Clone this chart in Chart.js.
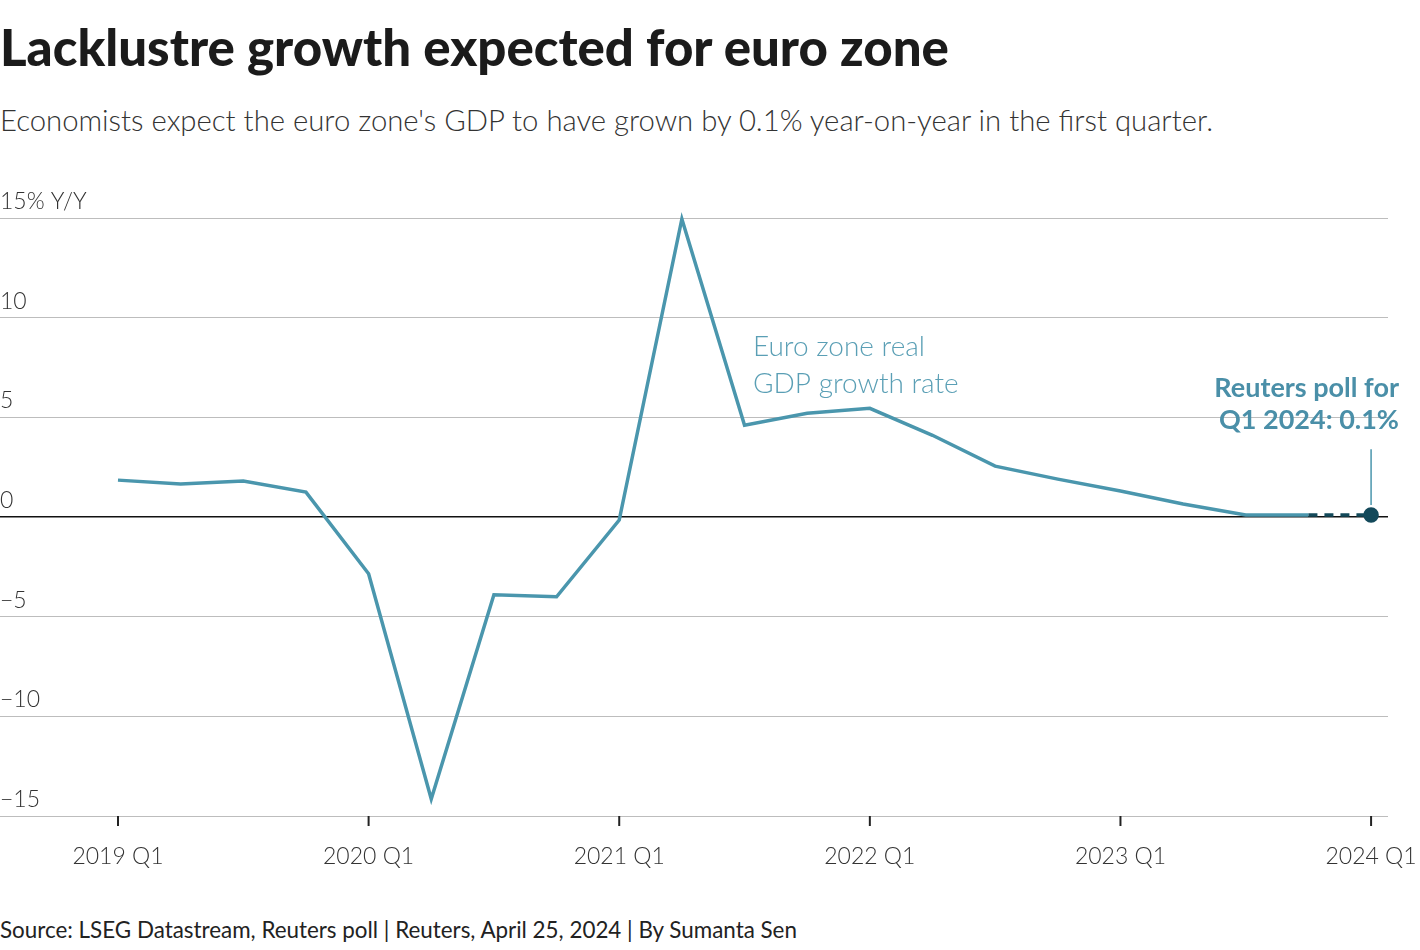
<!DOCTYPE html>
<html>
<head>
<meta charset="utf-8">
<script src="https://cdn.jsdelivr.net/npm/chart.js@4.4.1/dist/chart.umd.min.js"></script>
<style>
  body { margin: 0; background: #fff; font-family: Lato, "Noto Sans", sans-serif; }
  #wrap { position: relative; width: 1420px; height: 950px; overflow: hidden; }
  h1 { position: absolute; left: 0; top: 16px; margin: 0; font-size: 51px; font-weight: 900; color: #1b1b1b; line-height: 1.2; }
  .sub { position: absolute; left: 0; top: 102px; font-size: 29.3px; font-weight: 300; color: #333; }
  .src { position: absolute; left: 0; top: 916px; font-size: 22.4px; color: #222; }
  #c { position: absolute; left: 0; top: 170px; }
</style>
</head>
<body>
<div id="wrap">
  <h1>Lacklustre growth expected for euro zone</h1>
  <div class="sub">Economists expect the euro zone's GDP to have grown by 0.1% year-on-year in the first quarter.</div>
  <canvas id="c" width="1420" height="730"></canvas>
  <div class="src">Source: LSEG Datastream, Reuters poll | Reuters, April 25, 2024 | By Sumanta Sen</div>
</div>
<script>
// quarterly euro zone real GDP, % y/y
var quarters = ['2019 Q1','2019 Q2','2019 Q3','2019 Q4','2020 Q1','2020 Q2','2020 Q3','2020 Q4',
  '2021 Q1','2021 Q2','2021 Q3','2021 Q4','2022 Q1','2022 Q2','2022 Q3','2022 Q4',
  '2023 Q1','2023 Q2','2023 Q3','2023 Q4','2024 Q1'];
var gdpGrowth = [1.85, 1.65, 1.8, 1.25, -2.85, -14.15, -3.9, -4.0,
  -0.15, 14.95, 4.6, 5.2, 5.45, 4.1, 2.55, 1.9,
  1.3, 0.65, 0.1, 0.1, 0.1];
var yTicks = [15, 10, 5, 0, -5, -10, -15];
var yTickLabels = ['15% Y/Y', '10', '5', '0', '\u22125', '\u221210', '\u221215'];
var xTickLabels = ['2019 Q1', '2020 Q1', '2021 Q1', '2022 Q1', '2023 Q1', '2024 Q1'];

var lineColor = '#4a96ad';
var darkColor = '#13495a';
var pollIdx = quarters.length - 1;

var points = gdpGrowth.map(function (v, i) { return { x: i, y: v }; });

var overlay = {
  id: 'overlay',
  afterDraw: function (chart) {
    var ctx = chart.ctx, xs = chart.scales.x, ys = chart.scales.y, area = chart.chartArea;
    ctx.save();
    // y labels above gridlines
    ctx.fillStyle = '#333';
    ctx.font = '300 23px Lato, sans-serif';
    ctx.textAlign = 'left';
    ctx.textBaseline = 'alphabetic';
    yTicks.forEach(function (t, i) {
      ctx.fillText(yTickLabels[i], 0, ys.getPixelForValue(t) - 9);
    });
    // x ticks and labels
    ctx.strokeStyle = '#222';
    ctx.lineWidth = 2;
    ctx.textAlign = 'center';
    xTickLabels.forEach(function (lab) {
      var px = xs.getPixelForValue(quarters.indexOf(lab));
      ctx.beginPath();
      ctx.moveTo(px, area.bottom);
      ctx.lineTo(px, area.bottom + 10);
      ctx.stroke();
      ctx.fillText(lab, px, area.bottom + 48);
    });
    // series label
    ctx.fillStyle = '#5a9fb5';
    ctx.font = '300 28px Lato, sans-serif';
    ctx.textAlign = 'left';
    ctx.fillText('Euro zone real', 753, ys.getPixelForValue(8.1));
    ctx.fillText('GDP growth rate', 753, ys.getPixelForValue(6.2));
    // poll annotation
    var px = xs.getPixelForValue(pollIdx);
    var py = ys.getPixelForValue(gdpGrowth[pollIdx]);
    ctx.strokeStyle = lineColor;
    ctx.lineWidth = 1.5;
    ctx.beginPath();
    ctx.moveTo(px, py - 10);
    ctx.lineTo(px, ys.getPixelForValue(3.4));
    ctx.stroke();
    ctx.fillStyle = '#4a8fa8';
    ctx.font = 'bold 27px Lato, sans-serif';
    ctx.textAlign = 'right';
    ctx.fillText('Reuters poll for', 1399, ys.getPixelForValue(6.0));
    ctx.fillText('Q1 2024: 0.1%', 1399, ys.getPixelForValue(4.4));
    ctx.restore();
  }
};

new Chart(document.getElementById('c'), {
  type: 'line',
  data: {
    datasets: [{
      data: points,
      borderColor: lineColor,
      borderWidth: 3.5,
      tension: 0,
      clip: false,
      pointRadius: function (c) { return c.dataIndex === pollIdx ? 6 : 0; },
      pointBackgroundColor: darkColor,
      pointBorderColor: darkColor,
      pointHoverRadius: 0,
      segment: {
        borderColor: function (c) { return c.p0DataIndex === pollIdx - 1 ? darkColor : undefined; },
        borderDash: function (c) { return c.p0DataIndex === pollIdx - 1 ? [9, 7] : undefined; }
      }
    }]
  },
  options: {
    responsive: false,
    animation: false,
    events: [],
    layout: { autoPadding: false, padding: { left: 0, right: 32, top: 48, bottom: 84 } },
    plugins: { legend: { display: false }, tooltip: { enabled: false } },
    scales: {
      x: {
        type: 'linear',
        min: -1.883,
        max: 20.27,
        display: false
      },
      y: {
        min: -15,
        max: 15,
        ticks: { display: false, stepSize: 5 },
        border: { display: false },
        grid: {
          drawTicks: false,
          color: function (c) { return c.tick.value === 0 ? '#111' : '#bdbdbd'; },
          lineWidth: function (c) { return c.tick.value === 0 ? 1.5 : 1; }
        }
      }
    }
  },
  plugins: [overlay]
});
</script>
</body>
</html>
